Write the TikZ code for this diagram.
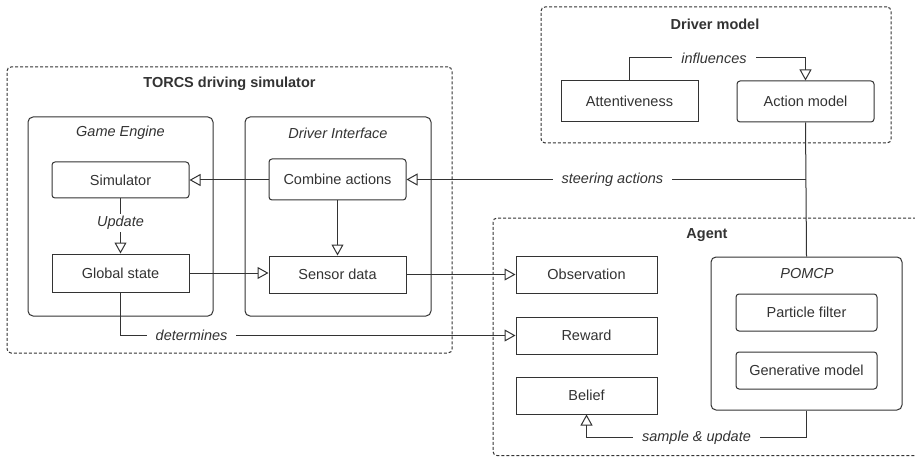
\documentclass[tikz,border=0pt]{standalone}
\usepackage{fontspec}
\setmainfont{Liberation Sans}
\usetikzlibrary{arrows.meta,calc}
\definecolor{ink}{RGB}{51,51,51}
\begin{document}
\begin{tikzpicture}[x=1pt,y=-1pt,
 every node/.style={text=ink, font=\fontsize{14.5}{17}\selectfont},
 box/.style={draw=ink, line width=1pt, minimum width=137pt, minimum height=37pt, inner sep=0pt},
 rbox/.style={box, rounded corners=3pt},
 cont/.style={draw=ink, line width=1pt, rounded corners=5pt, inner sep=0pt},
 dcont/.style={draw=ink, line width=1pt, dash pattern=on 3pt off 2pt, rounded corners=4pt, inner sep=0pt},
 ttl/.style={font=\fontsize{14.5}{17}\selectfont\bfseries},
 ital/.style={font=\fontsize{14.5}{17}\selectfont\itshape},
 lbl/.style={ital, fill=white, inner xsep=9pt, inner ysep=1pt},
 conn/.style={draw=ink, line width=1pt},
 arr/.style={conn, -{Triangle[open, length=11pt, width=12pt]}}]
\useasboundingbox (0,0) rectangle (915,457);
\fill[white] (0,0) rectangle (915,457);
\clip (0,0) rectangle (915,457);
% containers
\node[dcont, minimum width=445pt, minimum height=286pt] (torcs) at (229.5,210) {};
\node[cont, minimum width=185pt, minimum height=199pt] (ge) at (120.5,216.5) {};
\node[cont, minimum width=186pt, minimum height=199pt] (di) at (338,216.5) {};
\node[dcont, minimum width=350pt, minimum height=136pt] (dm) at (716,75) {};
\node[dcont, minimum width=432pt, minimum height=237.5pt] (agent) at (709,336.75) {};
\node[cont, minimum width=191pt, minimum height=153pt] (pomcp) at (806.5,333.5) {};
% titles
\node[ttl] (torcsT) at (229.5,84) {TORCS driving simulator};
\node[ital] (geT) at (120.5,133) {Game Engine};
\node[ital] (diT) at (338,133) {Driver Interface};
\node[ttl] (dmT) at (715,24) {Driver model};
\node[ttl] (agT) at (707,235) {Agent};
\node[ital] (pomcpT) at (807,274) {POMCP};
% boxes
\node[rbox, minimum height=36pt] (sim) at (120.5,180) {Simulator};
\node[box, minimum height=38pt] (gs) at (120.5,273) {Global state};
\node[rbox, minimum height=41pt] (ca) at (337.5,179.5) {Combine actions};
\node[box] (sd) at (337.5,274.5) {Sensor data};
\node[box, minimum height=41pt] (att) at (629.5,101.5) {Attentiveness};
\node[rbox, minimum height=41pt] (am) at (805.5,101.5) {Action model};
\node[box, minimum width=141pt] (obs) at (586.5,274.5) {Observation};
\node[box, minimum width=141pt] (rew) at (586.5,335.5) {Reward};
\node[box, minimum width=141pt] (bel) at (586.5,395.5) {Belief};
\node[rbox, minimum width=141pt] (pf) at (806.5,312.5) {Particle filter};
\node[rbox, minimum width=141pt] (gm) at (806.5,370.5) {Generative model};
% connectors
\draw[arr] (ca.west |- sim.east) -- (sim.east);
\draw[arr] (sim.south) -- node[lbl, pos=0.45, inner xsep=2pt, inner ysep=2pt] {Update} (gs.north);
\draw[arr] (ca.south) -- (sd.north);
\draw[arr] (gs.east) -- (gs.east -| sd.west);
\draw[arr] (sd.east) -- (obs.west);
\coordinate (detc) at (gs.south |- rew.west);
\draw[arr] (gs.south) -- (detc) -- node[lbl, pos=0.18] {determines} (rew.west);
\coordinate (infc) at (att.north |- 0,58);
\coordinate (infd) at (am.north |- 0,58);
\draw[arr] (att.north) -- (infc) -- node[lbl, pos=0.48] {influences} (infd) -- (am.north);
\draw[conn] (am.south) -- (pomcp.north);
\coordinate (sj) at (am.south |- ca.east);
\draw[arr] (sj) -- node[lbl, pos=0.484] {steering actions} (ca.east);
\coordinate (su) at ($(pomcp.south)+(0,27)$);
\coordinate (sv) at (bel.south |- su);
\draw[arr] (pomcp.south) -- (su) -- node[lbl, pos=0.5] {sample \& update} (sv) -- (bel.south);
\end{tikzpicture}
\end{document}
